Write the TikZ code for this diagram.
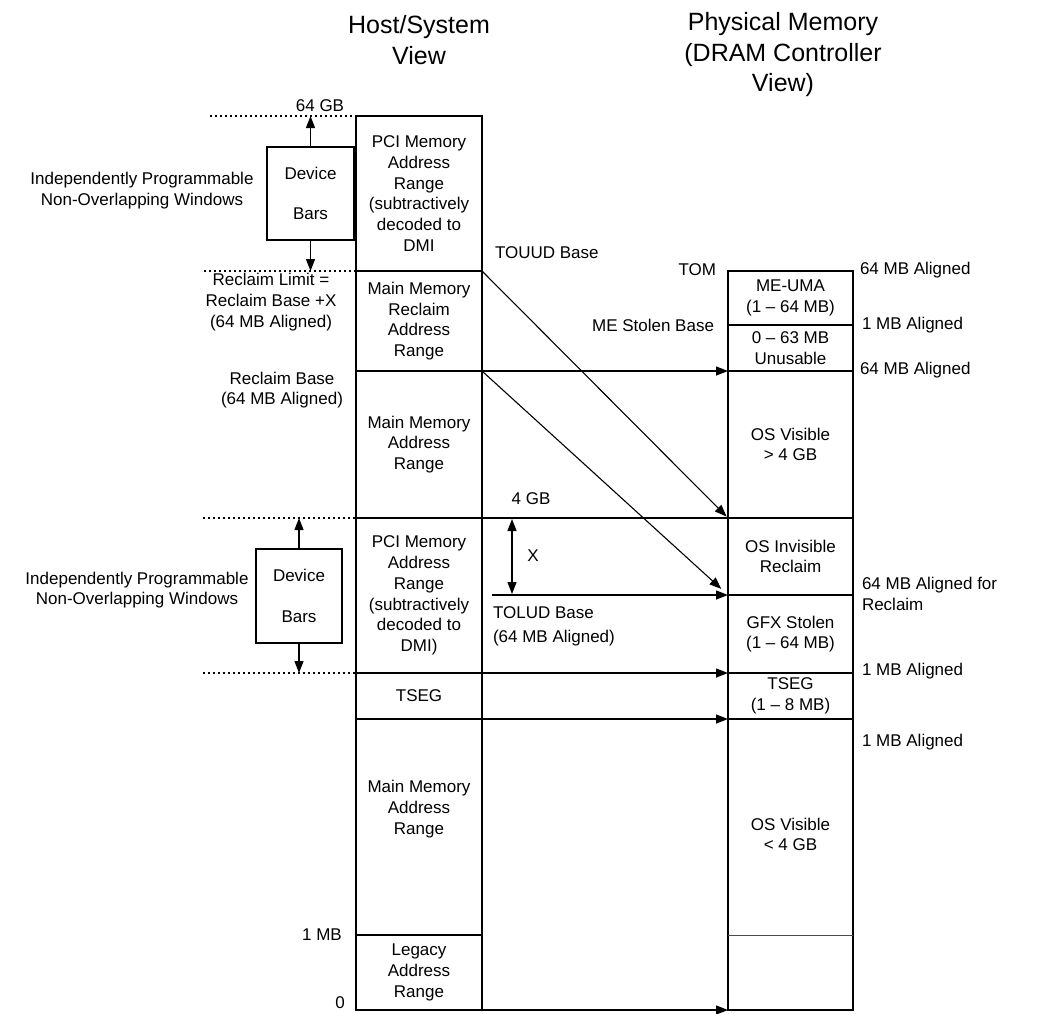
\documentclass[tikz,border=0pt]{standalone}
\usepackage{fontspec}
\setmainfont{Liberation Sans}
\usetikzlibrary{arrows.meta}

\begin{document}
\begin{tikzpicture}[x=1pt,y=-1pt,
	every node/.style={inner sep=0pt,outer sep=0pt,align=center,font=\fontsize{17}{20.7}\selectfont},
	ttl/.style={font=\fontsize{25}{30.5}\selectfont},
	blk/.style={draw,line width=1.5pt,minimum width=126pt},
	pblk/.style={draw,line width=1.5pt,minimum width=125pt},
	bars/.style={draw,line width=1.5pt,minimum width=87pt,minimum height=93pt},
	tip/.style={line width=1.3pt,-{Triangle[length=12pt,width=9pt]}},
	guide/.style={line width=1.6pt,dash pattern=on 1.6pt off 3.4pt}]
			\useasboundingbox (0,0) rectangle (1049,1013);
			% Tiêu đề
			\node[ttl] (hosttitle) at (419,40) {Host/System\\View};
			\node[ttl] (phystitle) at (783,55) {Physical Memory\\(DRAM Controller\\View)};
			% Cột Host/System
			\node[blk,minimum height=155pt] (pci1) at (419,193.5) {PCI Memory\\Address\\Range\\(subtractively\\decoded to\\DMI};
			\node[blk,minimum height=100pt] (mmrec) at (419,321) {Main Memory\\Reclaim\\Address\\Range};
			\node[blk,minimum height=147pt] (mmaddr) at (419,444.5) {Main Memory\\Address\\Range};
			\node[blk,minimum height=155pt] (pci2) at (419,595.5) {PCI Memory\\Address\\Range\\(subtractively\\decoded to\\DMI)};
			\node[blk,minimum height=46pt] (tseg) at (419,696) {TSEG};
			\node[blk,minimum height=216pt] (mmlow) at (419,827) {};
			\node (mmlowtxt) at (419,809) {Main Memory\\Address\\Range};
			\node[blk,minimum height=75pt] (legacy) at (419,972.5) {Legacy\\Address\\Range};
			% Cột Physical Memory
			\node[pblk,minimum height=54pt] (meuma) at (790.5,298) {ME-UMA\\(1 – 64 MB)};
			\node[pblk,minimum height=46pt] (unusable) at (790.5,348) {0 – 63 MB\\Unusable};
			\node[pblk,minimum height=147pt] (osvis) at (790.5,444.5) {OS Visible\\> 4 GB};
			\node[pblk,minimum height=77pt] (osinv) at (790.5,556.5) {OS Invisible\\Reclaim};
			\node[pblk,minimum height=78pt] (gfx) at (790.5,634) {GFX Stolen\\(1 – 64 MB)};
			\node[pblk,minimum height=46pt] (ptseg) at (790.5,696) {TSEG\\(1 – 8 MB)};
			\node[pblk,minimum height=291pt] (osvislow) at (790.5,864.5) {};
			\node (osvislowtxt) at (790.5,834.5) {OS Visible\\< 4 GB};
			\draw[line width=0.8pt,black!70] (osvislow.west |- legacy.north) -- (osvislow.east |- legacy.north);
			% Device Bars
			\node[bars] (bars1) at (310.5,193.5) {Device\\[20pt]Bars};
			\node[bars,minimum width=86pt,minimum height=94pt] (bars2) at (299,596) {Device\\[20pt]Bars};
			\draw[tip] (bars1.north) -- (bars1.north |- pci1.north);
			\draw[tip] (bars1.south) -- (bars1.south |- pci1.south);
			\draw[tip] (bars2.north) -- (bars2.north |- pci2.north);
			\draw[tip] (bars2.south) -- (bars2.south |- pci2.south);
			\foreach \y/\x in {116/210,271/204,518/203,673/203}
			\draw[guide] (\x,\y) -- (356,\y);
			% Nhãn bên trái
			\node (gb64) at (320,106) {64 GB};
			\node (indep1) at (142,190.5) {Independently Programmable\\Non-Overlapping Windows};
			\node (indep2) at (137,590) {Independently Programmable\\Non-Overlapping Windows};
			\node (reclimit) at (271,302) {Reclaim Limit =\\Reclaim Base +X\\(64 MB Aligned)};
			\node (reclbase) at (282,390) {Reclaim Base\\(64 MB Aligned)};
			\node (mb1) at (322,935) {1 MB};
			\node (zero) at (340,1003) {0};
			% Nhãn ở giữa
			\node[anchor=west] (touud) at (495,253) {TOUUD Base};
			\node[anchor=east] (tom) at (716,270) {TOM};
			\node[anchor=east] (mestolen) at (714,325) {ME Stolen Base};
			\node (gb4) at (531,499) {4 GB};
			\node (xlbl) at (533,556) {X};
			\node[anchor=west,align=left] (tolud) at (493,626) {TOLUD Base\\[3pt] (64 MB Aligned)};
			% Nhãn bên phải
			\node[anchor=west] (al1) at (860,270.5) {64 MB Aligned};
			\node[anchor=west] (al2) at (862,325.5) {1 MB Aligned};
			\node[anchor=west] (al3) at (860,370.5) {64 MB Aligned};
			\node[anchor=west,align=left] (al4) at (862,594) {64 MB Aligned for\\Reclaim};
			\node[anchor=west] (al5) at (862,671) {1 MB Aligned};
			\node[anchor=west] (al6) at (862,742) {1 MB Aligned};
			% Mũi tên ánh xạ
			\coordinate (toludstart) at (492,595);
			\coordinate (xtop) at (512,519);
			\coordinate (xbot) at (512,594);
			\draw[tip] (mmrec.south east) -- (osvis.north west);
			\draw[line width=1.3pt] (mmaddr.south east) -- (osvis.south west);
			\draw[tip] (toludstart) -- (gfx.north west);
			\draw[tip] (pci2.south east) -- (ptseg.north west);
			\draw[tip] (tseg.south east) -- (osvislow.north west);
			\draw[tip] (legacy.south east) -- (osvislow.south west);
			\draw[tip,line width=1.1pt,shorten >=2pt] (mmrec.north east) -- (osvis.south west);
			\draw[tip,line width=1.1pt,shorten >=9pt] (mmrec.south east) -- (osinv.south west);
			\draw[line width=1.3pt,{Triangle[length=12pt,width=9pt]}-{Triangle[length=12pt,width=9pt]}] (xtop) -- (xbot);
		\end{tikzpicture}
\end{document}
